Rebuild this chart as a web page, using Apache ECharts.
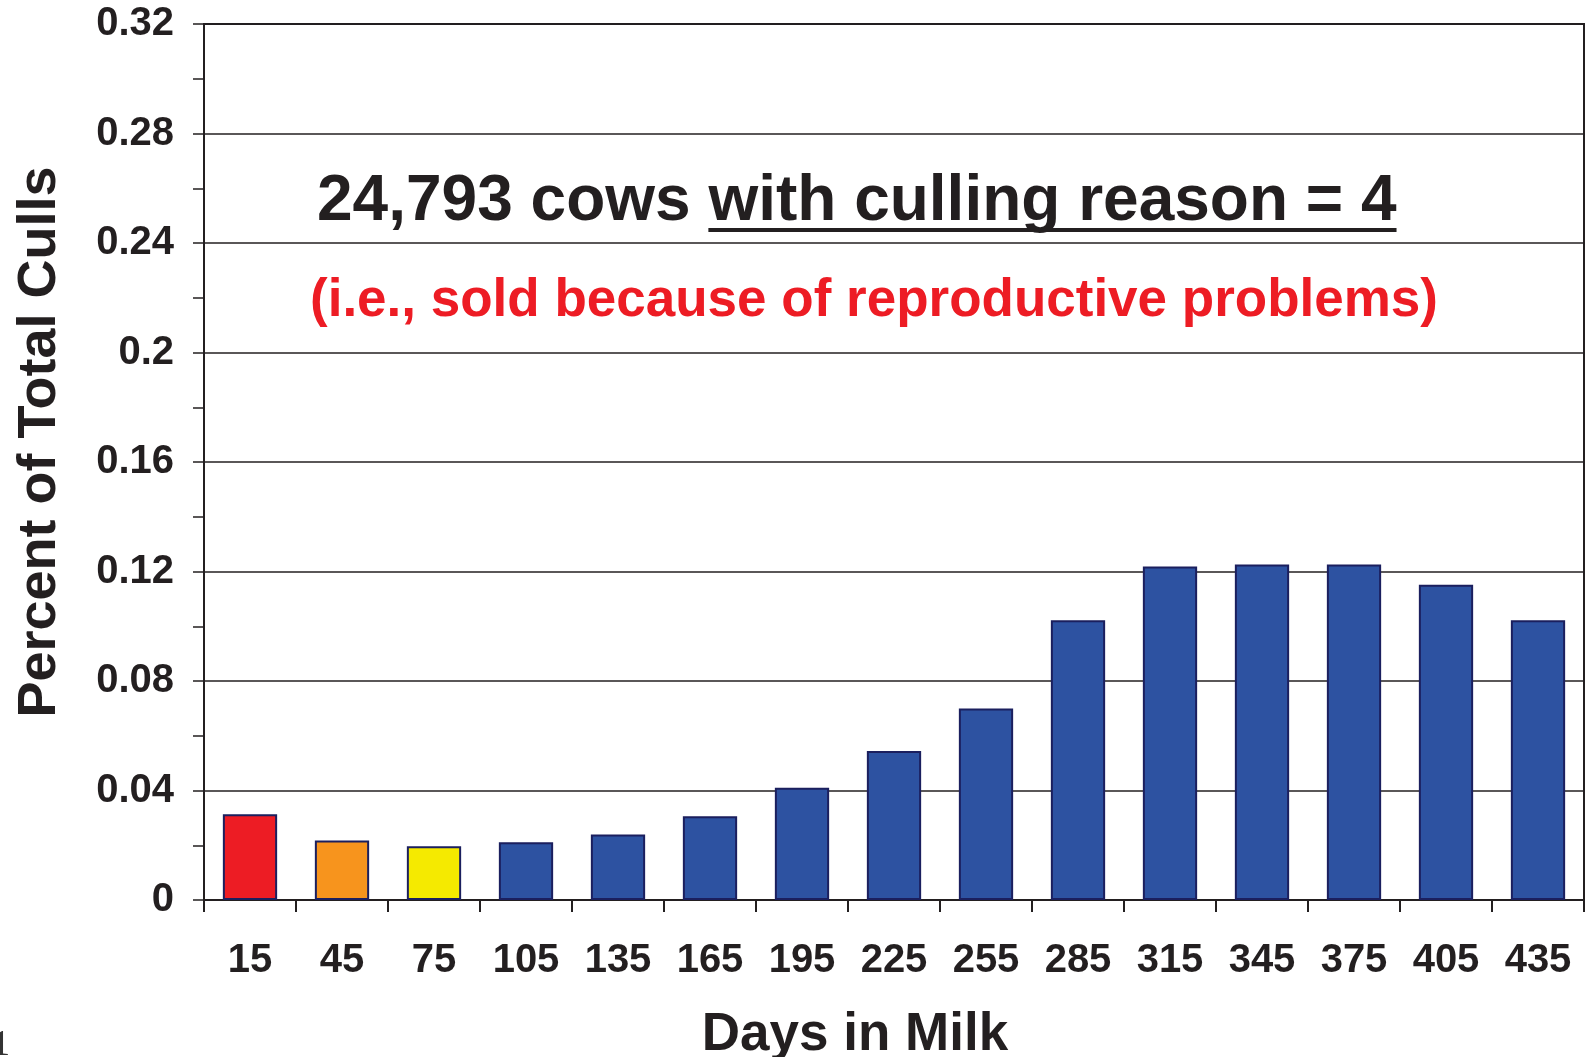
<!DOCTYPE html>
<html>
<head>
<meta charset="utf-8">
<script src="https://cdn.jsdelivr.net/npm/echarts@6/dist/echarts.min.js"></script>
<style>
  html, body { margin: 0; padding: 0; background: #fff; }
  #chart { width: 1593px; height: 1057px; }
</style>
</head>
<body>
<div id="chart"></div>
<script>
// Days-in-milk bins (x categories)
const daysInMilk = ['15', '45', '75', '105', '135', '165', '195', '225', '255', '285', '315', '345', '375', '405', '435'];
// Share of total culls per bin
const cullShare = [0.0313, 0.0217, 0.0196, 0.0211, 0.0239, 0.0306, 0.0410, 0.0544, 0.0700, 0.1022, 0.1218, 0.1226, 0.1226, 0.1152, 0.1022];
// Fill colour per bin: first three early-lactation bins highlighted
const barColors = ['#ED1C24', '#F7941D', '#F5EA00', '#2D52A1', '#2D52A1', '#2D52A1', '#2D52A1', '#2D52A1',
                   '#2D52A1', '#2D52A1', '#2D52A1', '#2D52A1', '#2D52A1', '#2D52A1', '#2D52A1'];
// Y axis scale
const yMin = 0, yMax = 0.32, yStep = 0.04;

const headline = '24,793 cows ';
const headlineUnderlined = 'with culling reason = 4';
const subline = '(i.e., sold because of reproductive problems)';

const FONT = '"Liberation Sans", Arial, Helvetica, sans-serif';
const INK = '#231F20';

function textWidth(str, size) {
  const ctx = document.createElement('canvas').getContext('2d');
  ctx.font = 'bold ' + size + 'px ' + FONT;
  return ctx.measureText(str).width;
}

const chart = echarts.init(document.getElementById('chart'), null, { renderer: 'canvas' });

const titleSize = 64;
const titleLeft = 317;
const titleTop = 170;
const prefixW = textWidth(headline, titleSize);
const underW = textWidth(headlineUnderlined, titleSize);

chart.setOption({
  animation: false,
  backgroundColor: '#fff',
  grid: {
    left: 204, right: 9, top: 24, bottom: 157,
    outerBoundsMode: 'none',
    containLabel: false,
    show: true, borderColor: INK, borderWidth: 2, backgroundColor: 'transparent'
  },
  xAxis: {
    type: 'category',
    data: daysInMilk,
    name: 'Days in Milk',
    nameLocation: 'middle',
    nameGap: 109,
    nameTextStyle: { fontFamily: FONT, fontWeight: 'bold', fontSize: 53, color: INK, padding: [0, 78, 0, 0] },
    axisLine: { lineStyle: { color: INK, width: 2 } },
    axisTick: { show: true, length: 12, inside: false, lineStyle: { color: INK, width: 2 } },
    axisLabel: { margin: 41, fontFamily: FONT, fontWeight: 'bold', fontSize: 40, color: INK }
  },
  yAxis: {
    type: 'value',
    min: yMin, max: yMax, interval: yStep,
    name: 'Percent of Total Culls',
    nameLocation: 'middle',
    nameGap: 137,
    nameTextStyle: { fontFamily: FONT, fontWeight: 'bold', fontSize: 54, color: INK, padding: [0, 0, 0, 40] },
    axisLine: { show: true, lineStyle: { color: INK, width: 2 } },
    axisTick: { show: true, length: 11, lineStyle: { color: INK, width: 1.5 } },
    minorTick: { show: true, splitNumber: 2, length: 11, lineStyle: { color: INK, width: 1.5 } },
    splitLine: { show: true, lineStyle: { color: INK, width: 1.5 } },
    axisLabel: {
      margin: 30, fontFamily: FONT, fontWeight: 'bold', fontSize: 40, color: INK,
      formatter: v => String(parseFloat(v.toFixed(2)))
    }
  },
  series: [{
    type: 'bar',
    data: cullShare.map((v, i) => ({ value: v, itemStyle: { color: barColors[i] } })),
    barCategoryGap: '41%',
    itemStyle: { borderColor: '#1B1F5E', borderWidth: 2 }
  }],
  graphic: [
    {
      type: 'text', left: titleLeft, top: titleTop,
      style: { text: headline, font: 'bold ' + titleSize + 'px ' + FONT, fill: INK }
    },
    {
      type: 'text', left: titleLeft + prefixW, top: titleTop,
      style: { text: headlineUnderlined, font: 'bold ' + titleSize + 'px ' + FONT, fill: INK }
    },
    {
      type: 'rect',
      shape: { x: titleLeft + prefixW, y: 228, width: underW, height: 4 },
      style: { fill: INK }
    },
    {
      type: 'text', x: 874, y: 301,
      style: { text: subline, font: 'bold 53px ' + FONT, fill: '#ED1C24', align: 'center', verticalAlign: 'middle' }
    },
    {
      type: 'text', x: -8, y: 1064,
      style: { text: '1', font: '36px "Liberation Serif", "Times New Roman", serif', fill: '#333', verticalAlign: 'bottom' }
    }
  ]
});
</script>
</body>
</html>
